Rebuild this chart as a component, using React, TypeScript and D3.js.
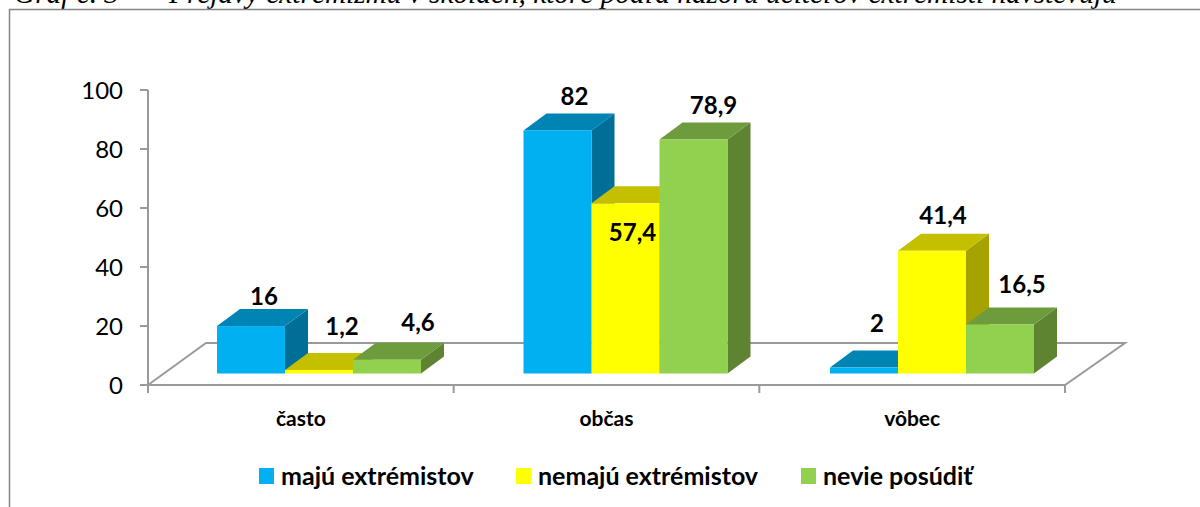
import React from "react";
import * as d3 from "d3";

const categories = ["často", "občas", "vôbec"];
const seriesNames = ["majú extrémistov", "nemajú extrémistov", "nevie posúdiť"];
const majuValues = [16, 82, 2];
const nemajuValues = [1.2, 57.4, 41.4];
const nevieValues = [4.6, 78.9, 16.5];
const yTicks = [0, 20, 40, 60, 80, 100];
const titleText = "Graf č. 3";
const titleRest = "Prejavy extrémizmu v školách, ktoré podľa názoru učiteľov extrémisti navštevujú";

const colors = [
  { front: "#00b0f0", top: "#0084b4", side: "#006f98" },
  { front: "#ffff00", top: "#c4c000", side: "#a6a200" },
  { front: "#92d050", top: "#6e9c3c", side: "#5e8432" },
];

// hand placed value labels, relative to the bar's front face (series x category)
const labelDx = [
  [13, 17, 13],
  [23, 7, 11],
  [31, 20, 22],
];
const labelDy = [
  [-21.5, -25.5, -36],
  [-34.5, 38, -26.5],
  [-28.5, -26, -31.5],
];

const font = "Lato, 'Open Sans', sans-serif";
const axisColor = "#9a9a9a";

const width = 1200;
const height = 507;

// axis box of the fake 3D plot
const left = 148;
const right = 1065;
const y0 = 385;
const y100 = 90;
const floorDx = 58;
const floorDy = -42;
// how deep a bar is, and where its base sits on the floor
const barDx = 23;
const barDy = -17;
const baseY = 373.5;

export default function App() {
  const x = d3.scaleBand().domain(categories).range([left, right]);
  // the bars run on a slightly wider step than the axis ticks
  const barBand = d3.scaleBand().domain(categories).range([217, 1136.5]);
  const inner = d3.scaleBand().domain(seriesNames).range([0, 204]);
  const y = d3.scaleLinear().domain([0, 100]).range([y0, y100]);
  const seriesValues = [majuValues, nemajuValues, nevieValues];

  const barHeight = (v: number) => (y(0) - y(v)) * 1.005;

  const bars = seriesNames.flatMap((name, s) =>
    categories.map((cat, c) => {
      const bx = barBand(cat)! + inner(name)!;
      return { s, c, bx, w: inner.bandwidth(), v: seriesValues[s][c], top: baseY - barHeight(seriesValues[s][c]) };
    })
  );
  // left-to-right so that a taller neighbour covers the side of the lower one
  bars.sort((a, b) => a.c - b.c || a.s - b.s);

  const poly = d3.line();

  const floor = poly([
    [left, y0],
    [left + floorDx, y0 + floorDy],
    [right + floorDx + 2, y0 + floorDy],
    [right, y0],
    [left, y0],
  ]);

  const legendX = [259, 516, 801];

  return (
    <svg width={width} height={height} style={{ position: "absolute", left: 0, top: 0, background: "#fff" }}>
      {/* caption cut off by the top of the image */}
      <text x={14} y={3} fontFamily="'Liberation Serif', serif" fontStyle="italic" fontSize={29.3} fill="#000">
        {titleText}
      </text>
      <text x={169} y={3} fontFamily="'Liberation Serif', serif" fontStyle="italic" fontSize={29.3} fill="#000">
        {titleRest}
      </text>

      {/* frame */}
      <path d={`M${width},9.5H9.5V${height}`} fill="none" stroke="#868686" strokeWidth={1.5} />

      {/* floor and axes */}
      <path d={floor!} fill="none" stroke={axisColor} strokeWidth={2} />
      <line x1={left} x2={left} y1={y100} y2={y0} stroke={axisColor} strokeWidth={2} />
      {yTicks.map((t) => (
        <g key={t}>
          <line x1={left - 8} x2={left} y1={y(t)} y2={y(t)} stroke={axisColor} strokeWidth={2} />
          <text x={left - 25} y={y(t) + 9} textAnchor="end" fontFamily={font} fontSize={24} fill="#000">
            {t}
          </text>
        </g>
      ))}
      {[...categories.map((c) => x(c)!), right].map((tx) => (
        <line key={tx} x1={tx} x2={tx} y1={y0} y2={y0 + 8} stroke={axisColor} strokeWidth={2} />
      ))}
      {categories.map((c) => (
        <text key={c} x={x(c)! + x.bandwidth() / 2} y={425.5} textAnchor="middle" fontFamily={font} fontWeight={700} fontSize={21} fill="#000">
          {c}
        </text>
      ))}

      {/* bars */}
      {bars.map((b) => (
        <g key={`${b.c}-${b.s}`}>
          <path
            d={poly([[b.bx + b.w, b.top], [b.bx + b.w + barDx, b.top + barDy], [b.bx + b.w + barDx, baseY + barDy], [b.bx + b.w, baseY]])!}
            fill={colors[b.s].side}
          />
          <path
            d={poly([[b.bx, b.top], [b.bx + barDx, b.top + barDy], [b.bx + b.w + barDx, b.top + barDy], [b.bx + b.w, b.top]])!}
            fill={colors[b.s].top}
          />
          <rect x={b.bx} y={b.top} width={b.w} height={baseY - b.top} fill={colors[b.s].front} />
        </g>
      ))}

      {/* value labels */}
      {bars.map((b) => (
        <text
          key={`l${b.c}-${b.s}`}
          x={b.bx + b.w / 2 + labelDx[b.s][b.c]}
          y={b.top + labelDy[b.s][b.c]}
          textAnchor="middle"
          fontFamily={font}
          fontWeight={700}
          fontSize={24}
          fill="#000"
        >
          {String(b.v).replace(".", ",")}
        </text>
      ))}

      {/* legend */}
      {seriesNames.map((name, i) => (
        <g key={name}>
          <rect x={legendX[i]} y={468} width={15} height={16} fill={colors[i].front} />
          <text x={legendX[i] + 22} y={485} fontFamily={font} fontWeight={700} fontSize={25} fill="#000">
            {name}
          </text>
        </g>
      ))}
    </svg>
  );
}
